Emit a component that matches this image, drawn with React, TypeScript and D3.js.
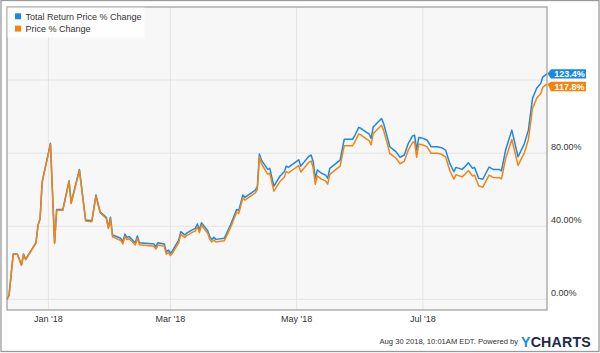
import React from "react";
import * as d3 from "d3";

const dates: string[] = [
  "2017-12-12","2017-12-13","2017-12-15","2017-12-17","2017-12-19","2017-12-20","2017-12-21","2017-12-26","2017-12-27","2017-12-28",
  "2017-12-29","2018-01-02","2018-01-04","2018-01-05","2018-01-08","2018-01-11","2018-01-12","2018-01-16","2018-01-19","2018-01-22",
  "2018-01-24","2018-01-26","2018-01-29","2018-01-30","2018-01-31","2018-02-01","2018-02-05","2018-02-06","2018-02-07","2018-02-08",
  "2018-02-09","2018-02-12","2018-02-13","2018-02-14","2018-02-21","2018-02-22","2018-02-23","2018-02-26","2018-02-27","2018-02-28",
  "2018-03-01","2018-03-02","2018-03-05","2018-03-06","2018-03-07","2018-03-08","2018-03-09","2018-03-12","2018-03-13","2018-03-14",
  "2018-03-15","2018-03-16","2018-03-19","2018-03-20","2018-03-21","2018-03-22","2018-03-23","2018-03-27","2018-03-30","2018-04-02",
  "2018-04-03","2018-04-05","2018-04-06","2018-04-11","2018-04-12","2018-04-13","2018-04-14","2018-04-17","2018-04-18","2018-04-20",
  "2018-04-23","2018-04-25","2018-04-26","2018-04-27","2018-04-30","2018-05-02","2018-05-03","2018-05-07","2018-05-08","2018-05-09",
  "2018-05-10","2018-05-11","2018-05-13","2018-05-15","2018-05-16","2018-05-17","2018-05-22","2018-05-24","2018-05-28","2018-05-29",
  "2018-05-31","2018-06-01","2018-06-04","2018-06-05","2018-06-06","2018-06-07","2018-06-08","2018-06-09","2018-06-11","2018-06-12",
  "2018-06-14","2018-06-15","2018-06-17","2018-06-18","2018-06-20","2018-06-22","2018-06-24","2018-06-26","2018-06-27","2018-06-28",
  "2018-06-29","2018-07-01","2018-07-03","2018-07-05","2018-07-08","2018-07-10","2018-07-12","2018-07-14","2018-07-16","2018-07-17",
  "2018-07-20","2018-07-21","2018-07-23","2018-07-25","2018-07-26","2018-07-28","2018-07-30","2018-08-02","2018-08-04","2018-08-07",
  "2018-08-08","2018-08-10","2018-08-13","2018-08-16","2018-08-19","2018-08-21","2018-08-23","2018-08-25","2018-08-27","2018-08-28",
  "2018-08-30",
];

const totalReturn: number[] = [
  0, 2.3, 24.8, 24.8, 18.8, 24.8, 21.9, 31, 40.7, 44.3,
  64.4, 85.4, 31, 49.2, 49.2, 64.9, 52.9, 71.1, 43.4, 43,
  57.1, 47.9, 44.9, 39.4, 44.9, 35.2, 33.4, 31.5, 35.7, 33.9,
  34.3, 31, 34.6, 31, 30.3, 28.8, 31, 30.3, 26, 27,
  25.2, 26.6, 32.4, 37, 36.1, 35.2, 36.4, 38.3, 38.8, 41.2,
  37.9, 41.9, 37.5, 34.3, 32.8, 33.9, 32.8, 33.4, 40.7, 49.2,
  48.5, 57.1, 55.8, 59.8, 61.6, 79.5, 76.2, 71.1, 71.7, 62,
  67.5, 69.8, 72.9, 72.2, 74.7, 76.4, 72.9, 78.4, 79, 75.3,
  66.2, 70.8, 69, 68, 66.2, 71.7, 76.2, 87.6, 87.6, 89.4,
  94.1, 93.6, 91.2, 90.5, 88.1, 94.4, 95.4, 96.6, 99.0, 96.3,
  88.1, 83.5, 81.7, 80.8, 77.7, 79, 85.4, 89.4, 89.9, 81.7,
  88.6, 88.1, 87.2, 83.5, 83.5, 83, 81.7, 74.4, 69.8, 72.2,
  71.1, 72.2, 74.7, 71.7, 72.2, 66.2, 65.7, 72.4, 71.1, 71,
  70.3, 81.7, 92.6, 78, 85, 92.6, 110, 115.5, 118.2, 121.8,
  123.4,
];

const priceChange: number[] = [
  0, 2.3, 24.6, 24.6, 18.6, 24.5, 21.6, 30.7, 40.4, 44.0,
  64.0, 84.9, 30.6, 48.7, 48.7, 64.4, 52.4, 70.5, 42.9, 42.5,
  56.5, 47.3, 44.3, 38.8, 44.2, 34.2, 32.2, 30.3, 34.5, 32.7,
  33.1, 29.8, 33.4, 29.8, 29.0, 27.5, 29.7, 29.0, 24.7, 25.7,
  23.9, 25.3, 31.0, 35.6, 34.7, 33.8, 35.0, 36.9, 37.4, 39.8,
  36.5, 40.5, 36.1, 32.9, 31.4, 32.5, 31.4, 32.0, 39.2, 47.7,
  47.0, 55.6, 54.3, 58.3, 60.1, 78.0, 74.2, 68.5, 69.0, 59.2,
  64.6, 66.8, 69.9, 69.2, 71.6, 73.2, 69.7, 75.1, 75.7, 72.0,
  63.0, 67.6, 65.8, 64.8, 63.0, 68.4, 72.9, 84.1, 84.1, 85.9,
  90.5, 90.0, 87.6, 86.9, 84.5, 90.8, 91.8, 93.0, 95.3, 92.6,
  84.5, 79.9, 78.1, 77.2, 74.2, 75.5, 81.8, 85.8, 86.3, 77.7,
  85.0, 84.5, 83.6, 79.9, 79.9, 79.4, 78.0, 70.5, 65.8, 68.2,
  67.0, 68.1, 70.5, 67.5, 68.0, 62.0, 61.4, 68.0, 66.7, 66.6,
  65.9, 77.0, 87.5, 73.3, 80.0, 87.4, 104.6, 110.0, 112.7, 116.2,
  117.8,
];

const seriesNames: string[] = ["Total Return Price % Change", "Price % Change"];
const seriesColors: string[] = ["#1a88e6", "#f7830d"];
const yTicks: number[] = [0, 40, 80, 120];
const yTickLabels: string[] = ["0.00%", "40.00%", "80.00%", ""];
const xTickDates: string[] = ["2018-01-01", "2018-03-01", "2018-05-01", "2018-07-01"];
const xTickLabels: string[] = ["Jan '18", "Mar '18", "May '18", "Jul '18"];
const domainDates: string[] = ["2017-12-12", "2018-08-30"];
const footerText = "Aug 30 2018, 10:01AM EDT.  Powered by";

const FONT = "'Liberation Sans', Arial, Helvetica, sans-serif";

export default function App() {
  const W = 600;
  const H = 353;
  const left = 7, right = 547, top = 7, bottom = 310;
  const parse = d3.timeParse("%Y-%m-%d");
  const x = d3
    .scaleTime()
    .domain([parse(domainDates[0])!, parse(domainDates[1])!])
    .range([left, right]);
  const y = d3.scaleLinear().domain([0, 160]).range([299.3, 7]);

  const pts = dates.map((d, i) => ({ date: parse(d)!, tr: totalReturn[i], p: priceChange[i] }));
  const lineTR = d3.line<any>().x((d) => x(d.date)).y((d) => y(d.tr));
  const lineP = d3.line<any>().x((d) => x(d.date)).y((d) => y(d.p));

  const lastTR = totalReturn[totalReturn.length - 1];
  const lastP = priceChange[priceChange.length - 1];
  const yTR = y(lastTR);
  const yP = y(lastP);
  const flagH = 9.4;
  const f1Top = yTR - flagH / 2;
  const f2Top = Math.max(yP - flagH / 2, f1Top + flagH + 3.3);
  const flag = (tipY: number, boxTop: number) => {
    const x0 = right + 0.5, x1 = right + 4, x2 = 586;
    const tip = Math.min(Math.max(tipY, boxTop + 1), boxTop + flagH - 1);
    return `M${x0},${tip} L${x1},${boxTop} L${x2},${boxTop} L${x2},${boxTop + flagH} L${x1},${boxTop + flagH} Z`;
  };

  return (
    <svg
      width={W}
      height={H}
      style={{ position: "absolute", left: 0, top: 0, display: "block" }}
      fontFamily={FONT}
    >
      <rect x={0} y={0} width={W} height={H} fill="#ffffff" />
      <rect x={1} y={0.5} width={598} height={351} fill="none" stroke="#9a9a9a" strokeWidth={1.3} />
      <rect x={left} y={top} width={right - left} height={bottom - top} fill="#f7f7f7" />
      {yTicks.map((t) => (
        <line key={"gy" + t} x1={left} x2={right} y1={y(t)} y2={y(t)} stroke="#e4e4e4" strokeWidth={1} />
      ))}
      {xTickDates.map((d) => (
        <line key={"gx" + d} x1={x(parse(d)!)} x2={x(parse(d)!)} y1={top} y2={bottom} stroke="#e4e4e4" strokeWidth={1} />
      ))}
      <path d={lineTR(pts) || ""} fill="none" stroke={seriesColors[0]} strokeWidth={1.5} strokeLinejoin="round" />
      <path d={lineP(pts) || ""} fill="none" stroke={seriesColors[1]} strokeWidth={1.5} strokeLinejoin="round" />
      <rect x={left} y={top} width={right - left} height={bottom - top} fill="none" stroke="#999999" strokeWidth={1.2} />

      {/* legend */}
      <rect x={left + 0.6} y={top + 0.6} width={137} height={30} fill="#ffffff" fillOpacity={0.85} />
      {seriesNames.map((n, i) => (
        <g key={n}>
          <rect x={15} y={13.3 + i * 12.3} width={6} height={6} fill={seriesColors[i]} />
          <text x={25.5} y={19.6 + i * 12.3} fontSize={9} fill="#333333">
            {n}
          </text>
        </g>
      ))}

      {/* y labels */}
      {yTicks.map((t, i) =>
        yTickLabels[i] ? (
          <text key={"yl" + t} x={551} y={y(t) - 3.2} fontSize={9} fill="#333333">
            {yTickLabels[i]}
          </text>
        ) : null
      )}

      {/* x labels */}
      {xTickDates.map((d, i) => (
        <text key={"xl" + d} x={x(parse(d)!)} y={321.8} fontSize={9} fill="#333333" textAnchor="middle">
          {xTickLabels[i]}
        </text>
      ))}

      {/* end flags */}
      <path d={flag(yTR, f1Top)} fill={seriesColors[0]} />
      <text x={569.5} y={f1Top + flagH / 2 + 3.3} fontSize={9} fontWeight="bold" fill="#ffffff" textAnchor="middle">
        {lastTR.toFixed(1)}%
      </text>
      <path d={flag(yP, f2Top)} fill={seriesColors[1]} />
      <text x={569.5} y={f2Top + flagH / 2 + 3.3} fontSize={9} fontWeight="bold" fill="#ffffff" textAnchor="middle">
        {lastP.toFixed(1)}%
      </text>

      {/* footer */}
      <text x={518} y={344.3} fontSize={7.6} fill="#333333" textAnchor="end">
        {footerText}
      </text>
      <text x={521} y={346.6} fontSize={14.2} fontWeight="bold" letterSpacing={0.2}>
        <tspan fill="#1a8fe3">Y</tspan>
        <tspan fill="#1d2a48">CHARTS</tspan>
      </text>
    </svg>
  );
}
